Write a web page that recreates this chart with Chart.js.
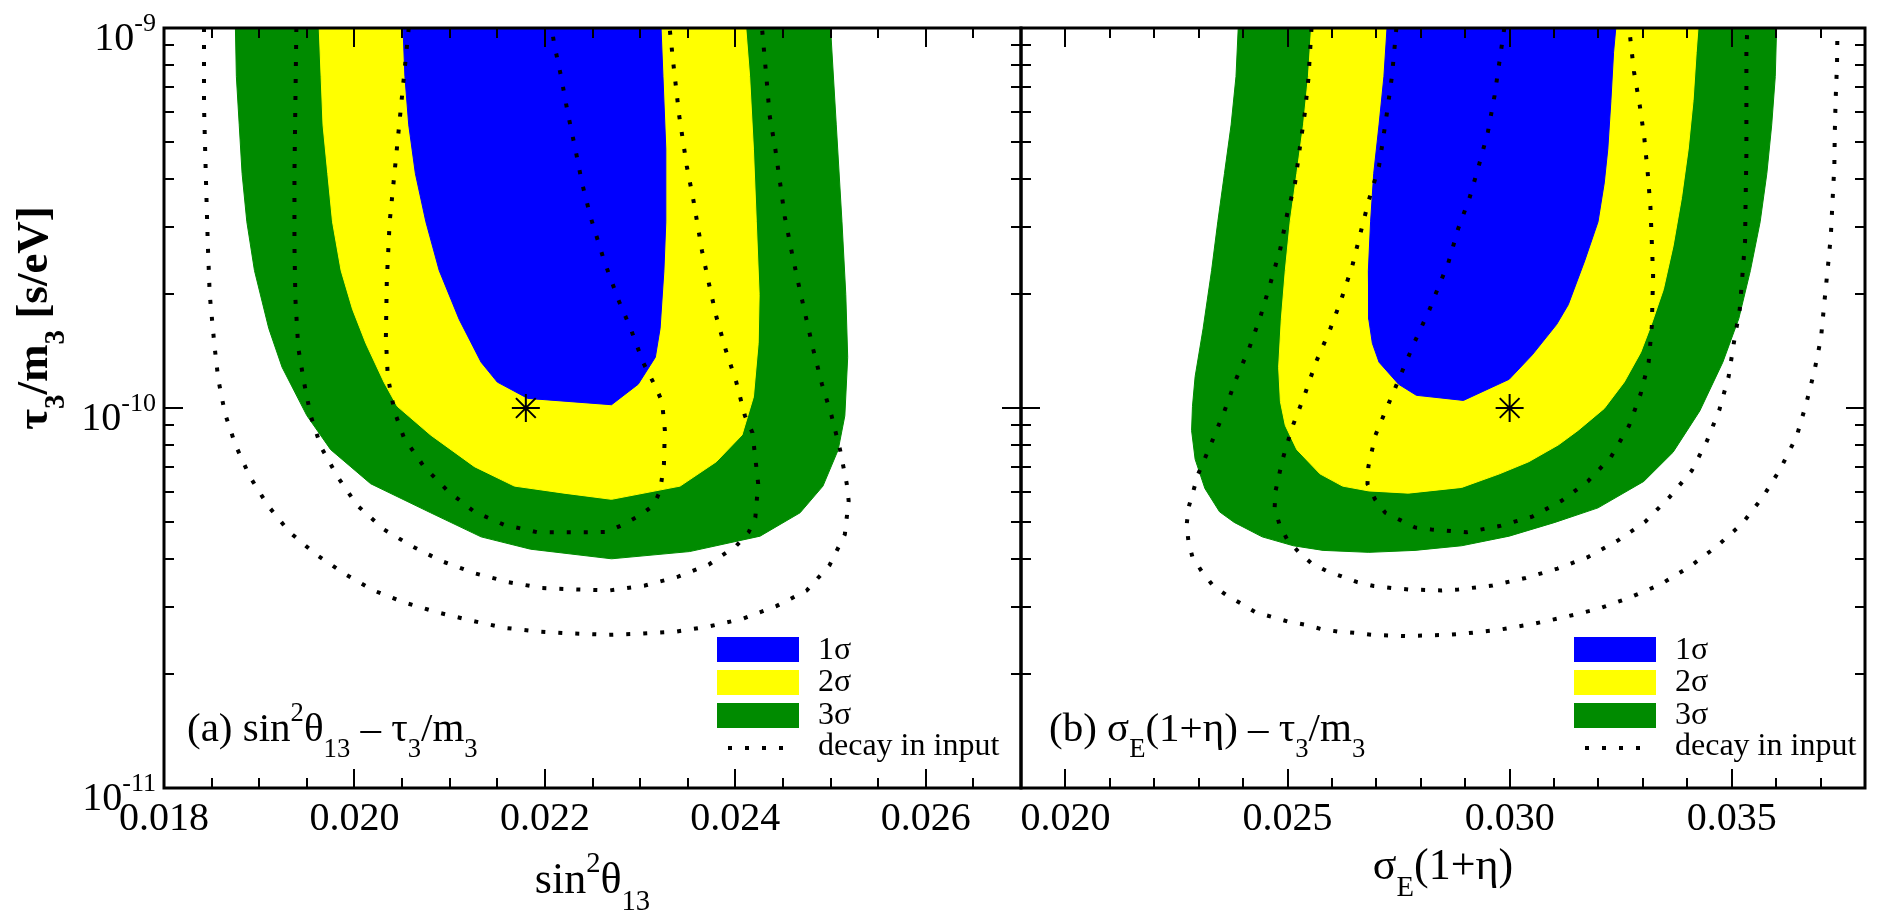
<!DOCTYPE html>
<html>
<head>
<meta charset="utf-8">
<title>tau3/m3 allowed regions</title>
<script src="https://cdn.jsdelivr.net/npm/chart.js@4.4.1/dist/chart.umd.min.js"></script>
<style>
  body { margin: 0; background: #fff; }
  #wrap { position: relative; width: 1881px; height: 917px; }
  canvas { position: absolute; top: 0; }
  #chartA { left: 0; }
  #chartB { left: 1002px; }
</style>
</head>
<body>
<div id="wrap">
  <canvas id="chartA" width="1040" height="917"></canvas>
  <canvas id="chartB" width="879" height="917"></canvas>
</div>
<script>
// contours, points are [x, tau3/m3 (s/eV)]
// panel (a): sin^2 theta13
const sinBlue = [[0.02051,1e-9],[0.02053,7.45e-10],[0.02057,5.56e-10],[0.02064,4.14e-10],[0.02075,3.09e-10],[0.02089,2.30e-10],[0.0211,1.71e-10],[0.02133,1.32e-10],[0.0215,1.17e-10],[0.02182,1.06e-10],[0.0227,1.02e-10],[0.02298,1.155e-10],[0.02316,1.36e-10],[0.02321,1.62e-10],[0.02325,2.30e-10],[0.02327,3.09e-10],[0.02327,4.80e-10],[0.02324,7.45e-10],[0.02322,1e-9]];
const sinYellow = [[0.01963,1e-9],[0.01965,7.45e-10],[0.01967,5.56e-10],[0.01972,4.14e-10],[0.01977,3.09e-10],[0.01986,2.30e-10],[0.01998,1.82e-10],[0.02012,1.48e-10],[0.02031,1.17e-10],[0.02045,1.01e-10],[0.0208,8.49e-11],[0.02126,7.01e-11],[0.02168,6.23e-11],[0.0222,5.97e-11],[0.0227,5.75e-11],[0.02342,6.23e-11],[0.0238,7.22e-11],[0.02407,8.49e-11],[0.02419,1.07e-10],[0.02424,1.48e-10],[0.02425,1.99e-10],[0.02422,3.09e-10],[0.02419,4.80e-10],[0.02415,7.45e-10],[0.02411,1e-9]];
const sinGreen = [[0.01875,1e-9],[0.01876,7.45e-10],[0.01879,5.56e-10],[0.01882,4.14e-10],[0.01887,3.09e-10],[0.01895,2.30e-10],[0.0191,1.62e-10],[0.01924,1.28e-10],[0.0195,9.55e-11],[0.01975,7.77e-11],[0.02017,6.32e-11],[0.0208,5.30e-11],[0.02133,4.58e-11],[0.02185,4.25e-11],[0.0227,4.01e-11],[0.02352,4.19e-11],[0.02426,4.60e-11],[0.02468,5.30e-11],[0.02492,6.23e-11],[0.02508,7.76e-11],[0.02515,9.54e-11],[0.02518,1.36e-10],[0.02516,1.99e-10],[0.02512,3.09e-10],[0.02506,5.56e-10],[0.025,1e-9]];
const sinDecay1 = [[0.02057,1e-9],[0.02052,7.45e-10],[0.02047,5.56e-10],[0.02042,4.14e-10],[0.02037,3.09e-10],[0.02034,2.17e-10],[0.02033,1.53e-10],[0.02035,1.21e-10],[0.02042,9.8e-11],[0.02052,8.35e-11],[0.02073,7.01e-11],[0.02098,6.05e-11],[0.02126,5.33e-11],[0.02157,4.93e-11],[0.02192,4.71e-11],[0.02248,4.71e-11],[0.02265,4.72e-11],[0.02282,4.93e-11],[0.023,5.22e-11],[0.02314,5.54e-11],[0.02321,6.05e-11],[0.02325,7.11e-11],[0.02326,8.73e-11],[0.02323,1.04e-10],[0.02316,1.14e-10],[0.02303,1.32e-10],[0.0229,1.62e-10],[0.02277,1.93e-10],[0.02262,2.45e-10],[0.02248,3.18e-10],[0.02239,3.91e-10],[0.02232,4.80e-10],[0.02224,5.98e-10],[0.02217,7.45e-10],[0.0221,9.02e-10],[0.02207,1e-9]];
const sinDecay2 = [[0.01939,1e-9],[0.01938,6.44e-10],[0.01937,4.14e-10],[0.01937,2.67e-10],[0.01938,1.93e-10],[0.01941,1.44e-10],[0.01947,1.17e-10],[0.01954,9.55e-11],[0.01965,7.89e-11],[0.01982,6.61e-11],[0.02003,5.54e-11],[0.02031,4.79e-11],[0.02061,4.32e-11],[0.02092,3.95e-11],[0.02127,3.67e-11],[0.02162,3.48e-11],[0.02197,3.36e-11],[0.02234,3.33e-11],[0.02268,3.31e-11],[0.02305,3.41e-11],[0.0234,3.60e-11],[0.02372,3.87e-11],[0.02401,4.34e-11],[0.02414,4.71e-11],[0.02421,5.15e-11],[0.02424,6.32e-11],[0.02422,7.01e-11],[0.02418,8.61e-11],[0.0241,9.55e-11],[0.02401,1.17e-10],[0.0239,1.42e-10],[0.0238,1.74e-10],[0.02372,2.14e-10],[0.02365,2.59e-10],[0.02356,3.52e-10],[0.02349,4.33e-10],[0.02341,5.89e-10],[0.02335,8.02e-10],[0.02331,1e-9]];
const sinDecay3 = [[0.01842,1e-9],[0.01842,6.25e-10],[0.01844,4.03e-10],[0.01846,2.70e-10],[0.01848,1.99e-10],[0.01853,1.46e-10],[0.01857,1.19e-10],[0.01864,9.68e-11],[0.01875,8.0e-11],[0.0189,6.61e-11],[0.01909,5.54e-11],[0.01932,4.71e-11],[0.01959,4.13e-11],[0.01989,3.67e-11],[0.0202,3.31e-11],[0.02052,3.08e-11],[0.02087,2.90e-11],[0.02122,2.76e-11],[0.02157,2.64e-11],[0.02194,2.58e-11],[0.0223,2.55e-11],[0.02267,2.53e-11],[0.02303,2.55e-11],[0.02338,2.58e-11],[0.02372,2.66e-11],[0.02408,2.79e-11],[0.02443,3.01e-11],[0.02475,3.31e-11],[0.02499,3.86e-11],[0.02515,4.65e-11],[0.02519,5.70e-11],[0.02517,6.32e-11],[0.0251,7.76e-11],[0.02501,9.55e-11],[0.02491,1.155e-10],[0.02482,1.42e-10],[0.02474,1.74e-10],[0.02466,2.14e-10],[0.02459,2.59e-10],[0.02452,3.18e-10],[0.02447,3.91e-10],[0.02442,4.80e-10],[0.02436,5.89e-10],[0.02433,7.24e-10],[0.02428,1e-9]];
const sinBest = [[0.0218, 1e-10]];

// panel (b): sigma_E(1+eta)
const sigBlue = [[0.02724,1e-9],[0.02717,7.45e-10],[0.02706,5.56e-10],[0.02694,4.14e-10],[0.02687,3.09e-10],[0.02682,2.30e-10],[0.02683,1.71e-10],[0.02691,1.48e-10],[0.02706,1.32e-10],[0.0275,1.155e-10],[0.0279,1.08e-10],[0.02896,1.047e-10],[0.02999,1.19e-10],[0.03051,1.38e-10],[0.03106,1.66e-10],[0.03132,1.87e-10],[0.03169,2.44e-10],[0.03199,3.09e-10],[0.03213,3.91e-10],[0.03221,4.80e-10],[0.03228,6.44e-10],[0.03234,8.63e-10],[0.03239,1e-9]];
const sigYellow = [[0.02554,1e-9],[0.02547,7.45e-10],[0.02536,5.56e-10],[0.02521,4.14e-10],[0.02506,3.09e-10],[0.02495,2.30e-10],[0.02486,1.71e-10],[0.0248,1.28e-10],[0.02484,1.04e-10],[0.02495,9.0e-11],[0.02521,7.77e-11],[0.02573,6.71e-11],[0.02624,6.23e-11],[0.02683,6.05e-11],[0.02772,5.97e-11],[0.02892,6.18e-11],[0.02977,6.71e-11],[0.03043,7.22e-11],[0.0311,8.0e-11],[0.03154,8.73e-11],[0.03213,9.97e-11],[0.03258,1.17e-10],[0.03295,1.40e-10],[0.0332,1.67e-10],[0.03346,2.05e-10],[0.03368,2.67e-10],[0.03387,3.58e-10],[0.03402,4.80e-10],[0.03413,6.44e-10],[0.0342,8.63e-10],[0.03424,1e-9]];
const sigGreen = [[0.02389,1e-9],[0.02384,7.45e-10],[0.02373,5.56e-10],[0.02358,4.14e-10],[0.02343,3.09e-10],[0.02329,2.30e-10],[0.0231,1.62e-10],[0.02292,1.21e-10],[0.02286,1.01e-10],[0.02284,8.73e-11],[0.02292,7.33e-11],[0.02314,6.14e-11],[0.02347,5.33e-11],[0.0238,5.0e-11],[0.02443,4.58e-11],[0.02513,4.34e-11],[0.0258,4.22e-11],[0.02683,4.17e-11],[0.02787,4.22e-11],[0.02892,4.34e-11],[0.02999,4.60e-11],[0.03102,5.0e-11],[0.03199,5.46e-11],[0.03302,6.41e-11],[0.03368,7.65e-11],[0.03428,9.82e-11],[0.0348,1.32e-10],[0.03516,1.72e-10],[0.03542,2.30e-10],[0.03564,3.09e-10],[0.03579,4.14e-10],[0.0359,5.56e-10],[0.03598,7.45e-10],[0.03601,1e-9]];
const sigDecay1 = [[0.02988,1e-9],[0.02977,8.14e-10],[0.02966,6.63e-10],[0.02951,5.32e-10],[0.02932,4.40e-10],[0.0291,3.58e-10],[0.02884,2.96e-10],[0.02862,2.41e-10],[0.02833,1.99e-10],[0.0282,1.82e-10],[0.02787,1.50e-10],[0.02757,1.24e-10],[0.02728,1.03e-10],[0.02698,8.49e-11],[0.02682,7.01e-11],[0.0268,6.32e-11],[0.02697,5.75e-11],[0.0272,5.30e-11],[0.02754,5.07e-11],[0.02787,4.85e-11],[0.02824,4.79e-11],[0.02903,4.71e-11],[0.02977,4.89e-11],[0.03051,5.18e-11],[0.03117,5.70e-11],[0.03176,6.41e-11],[0.03228,7.43e-11],[0.03269,8.99e-11],[0.03295,1.09e-10],[0.03313,1.32e-10],[0.0332,1.64e-10],[0.03323,2.23e-10],[0.0332,2.75e-10],[0.03317,3.37e-10],[0.03311,4.14e-10],[0.03303,5.16e-10],[0.03293,6.25e-10],[0.0328,7.67e-10],[0.03269,1e-9]];
const sigDecay2 = [[0.02745,1e-9],[0.02735,7.45e-10],[0.02723,5.89e-10],[0.02706,4.33e-10],[0.02683,3.52e-10],[0.02665,2.91e-10],[0.02646,2.37e-10],[0.02621,1.93e-10],[0.02595,1.60e-10],[0.02564,1.32e-10],[0.02537,1.07e-10],[0.0251,8.87e-11],[0.02489,7.33e-11],[0.02473,6.05e-11],[0.02471,5.46e-11],[0.02482,4.93e-11],[0.02499,4.51e-11],[0.02524,4.19e-11],[0.02554,3.90e-11],[0.02587,3.73e-11],[0.02623,3.60e-11],[0.02657,3.48e-11],[0.02694,3.40e-11],[0.02734,3.36e-11],[0.02772,3.33e-11],[0.02846,3.31e-11],[0.02884,3.33e-11],[0.02961,3.41e-11],[0.03036,3.57e-11],[0.03108,3.78e-11],[0.03176,4.05e-11],[0.03245,4.49e-11],[0.03306,5.03e-11],[0.0336,5.83e-11],[0.0341,6.84e-11],[0.03444,8.18e-11],[0.03472,9.88e-11],[0.03493,1.21e-10],[0.03505,1.49e-10],[0.03518,1.82e-10],[0.03524,2.23e-10],[0.0353,2.75e-10],[0.03531,3.37e-10],[0.03533,4.66e-10],[0.03533,6.34e-10],[0.03533,8.63e-10],[0.03535,1e-9]];
const sigDecay3 = [[0.02554,1e-9],[0.02547,7.35e-10],[0.02539,5.98e-10],[0.02528,4.87e-10],[0.02517,3.91e-10],[0.02499,3.23e-10],[0.02484,2.63e-10],[0.02462,2.14e-10],[0.02439,1.74e-10],[0.02414,1.44e-10],[0.02384,1.19e-10],[0.02358,9.82e-11],[0.02327,8.0e-11],[0.02299,6.71e-11],[0.02277,5.46e-11],[0.02273,4.93e-11],[0.02277,4.45e-11],[0.02286,4.05e-11],[0.02306,3.73e-11],[0.02332,3.41e-11],[0.02362,3.22e-11],[0.02395,3.06e-11],[0.02428,2.90e-11],[0.02465,2.82e-11],[0.02502,2.74e-11],[0.02539,2.69e-11],[0.02576,2.62e-11],[0.02613,2.58e-11],[0.0265,2.56e-11],[0.02691,2.53e-11],[0.02765,2.51e-11],[0.02861,2.53e-11],[0.029,2.55e-11],[0.02977,2.61e-11],[0.03051,2.70e-11],[0.03125,2.82e-11],[0.03199,2.96e-11],[0.0327,3.17e-11],[0.03339,3.43e-11],[0.03405,3.82e-11],[0.03466,4.32e-11],[0.03524,4.97e-11],[0.0357,5.83e-11],[0.03609,6.90e-11],[0.03646,8.41e-11],[0.03668,1.03e-10],[0.03686,1.25e-10],[0.03701,1.53e-10],[0.03708,1.87e-10],[0.03716,2.32e-10],[0.03723,2.83e-10],[0.03727,3.52e-10],[0.03731,4.33e-10],[0.03732,5.32e-10],[0.03734,6.53e-10],[0.03737,8.02e-10],[0.03738,1e-9]];
const sigBest = [[0.030, 1e-10]];

// axes
const sinTicks = [0.018, 0.020, 0.022, 0.024, 0.026];
const sinTickLabels = ['0.018', '0.020', '0.022', '0.024', '0.026'];
const sigTicks = [0.020, 0.025, 0.030, 0.035];
const sigTickLabels = ['0.020', '0.025', '0.030', '0.035'];
const tauTicks = [1e-11, 1e-10, 1e-9];
const tauTickExp = ['-11', '-10', '-9'];
const legendLabels = ['1σ', '2σ', '3σ', 'decay in input'];

const BLUE = '#0000ff', YELLOW = '#ffff00', GREEN = '#008b00';
const FONT = '"Liberation Serif", "Times New Roman", serif';
const DOTS = [4, 13];

function xy(pts) {
    return pts.map(p => ({x: p[0], y: p[1]}));
}

function region(pts, color, order) {
    return {data: xy(pts), showLine: true, fill: 'shape', backgroundColor: color,
            borderColor: color, borderWidth: 1, pointRadius: 0, tension: 0, order: order};
}

function dotted(pts) {
    return {data: xy(pts), showLine: true, fill: false, borderColor: '#000',
            borderWidth: 4, borderDash: DOTS, borderCapStyle: 'butt', pointRadius: 0, order: 2};
}

function star(pts) {
    return {data: xy(pts), showLine: false, pointStyle: 'star', pointRadius: 14,
            borderColor: '#000', borderWidth: 2, backgroundColor: '#000', order: 1};
}

// text with sub/superscripts, parts = [[text, 'sup'|'sub'|undefined], ...]
function richText(ctx, parts, x, y, size, align, weight) {
    const w = weight || 'normal';
    let total = 0;
    const dims = parts.map(p => {
        const s = p[1] ? size * 0.65 : size;
        ctx.font = w + ' ' + s + 'px ' + FONT;
        const m = ctx.measureText(p[0]).width;
        total += m;
        return [s, m];
    });
    let cx = align === 'center' ? x - total / 2 : (align === 'right' ? x - total : x);
    ctx.textAlign = 'left';
    ctx.textBaseline = 'alphabetic';
    parts.forEach((p, i) => {
        ctx.font = w + ' ' + dims[i][0] + 'px ' + FONT;
        let dy = 0;
        if (p[1] === 'sup') dy = -size * 0.48;
        if (p[1] === 'sub') dy = size * 0.38;
        ctx.fillText(p[0], cx, y + dy);
        cx += dims[i][1];
    });
}

function framePlugin(id, cfg) {
    return {
        id: id,
        afterDraw(chart) {
            const {ctx, chartArea: a, scales: {x, y}} = chart;
            ctx.save();
            ctx.fillStyle = '#000';
            ctx.strokeStyle = '#000';

            // inward ticks on all four sides
            ctx.lineWidth = 2;
            ctx.beginPath();
            const n = Math.round((x.max - x.min) / cfg.minorStep);
            for (let i = 0; i <= n; i++) {
                const v = x.min + i * cfg.minorStep;
                const r = v / cfg.majorStep;
                const len = Math.abs(r - Math.round(r)) < 1e-6 ? 19 : 10;
                const px = Math.round(x.getPixelForValue(v));
                ctx.moveTo(px, a.bottom); ctx.lineTo(px, a.bottom - len);
                ctx.moveTo(px, a.top); ctx.lineTo(px, a.top + len);
            }
            for (let e = -11; e <= -9; e++) {
                for (let m = 1; m <= 9; m++) {
                    if (e === -9 && m > 1) break;
                    const py = Math.round(y.getPixelForValue(m * Math.pow(10, e)));
                    const len = m === 1 ? 19 : 10;
                    ctx.moveTo(a.left, py); ctx.lineTo(a.left + len, py);
                    ctx.moveTo(a.right, py); ctx.lineTo(a.right - len, py);
                }
            }
            ctx.stroke();

            ctx.lineWidth = 3;
            ctx.strokeRect(a.left, a.top, a.right - a.left, a.bottom - a.top);

            // x tick labels
            ctx.font = '40px ' + FONT;
            ctx.textAlign = 'center';
            ctx.textBaseline = 'alphabetic';
            cfg.ticks.forEach((v, i) => {
                ctx.fillText(cfg.tickLabels[i], x.getPixelForValue(v), a.bottom + 42);
            });

            // y tick labels and title (left panel only)
            if (cfg.yLabels) {
                tauTicks.forEach((v, i) => {
                    richText(ctx, [['10'], [tauTickExp[i], 'sup']], a.left - 8, y.getPixelForValue(v) + 22, 40, 'right');
                });
                ctx.save();
                ctx.translate(47, 318);
                ctx.rotate(-Math.PI / 2);
                richText(ctx, [['τ'], ['3', 'sub'], ['/m'], ['3', 'sub'], [' [s/eV]']], 0, 0, 45, 'center', 'bold');
                ctx.restore();
            }

            // axis title and panel label
            richText(ctx, cfg.title, (a.left + a.right) / 2, cfg.titleY, 44, 'center');
            richText(ctx, cfg.panel, a.left + cfg.panelX, 741, 41, 'left');

            // legend
            const lx = a.left + 553;
            ctx.fillStyle = BLUE; ctx.fillRect(lx, a.top + 609, 82, 25);
            ctx.fillStyle = YELLOW; ctx.fillRect(lx, a.top + 642, 82, 25);
            ctx.fillStyle = GREEN; ctx.fillRect(lx, a.top + 675, 82, 25);
            ctx.setLineDash(DOTS);
            ctx.lineWidth = 4;
            ctx.beginPath();
            ctx.moveTo(lx + 11, a.top + 720); ctx.lineTo(lx + 68, a.top + 720);
            ctx.stroke();
            ctx.setLineDash([]);
            ctx.fillStyle = '#000';
            ctx.font = '32px ' + FONT;
            ctx.textAlign = 'left';
            const base = [631, 663, 696, 727];
            legendLabels.forEach((t, i) => ctx.fillText(t, lx + 101, a.top + base[i]));
            ctx.restore();
        }
    };
}

function makeChart(el, sets, xmin, xmax, padding, plugin) {
    return new Chart(document.getElementById(el), {
        type: 'scatter',
        data: {datasets: sets},
        options: {
            responsive: false,
            animation: false,
            devicePixelRatio: 1,
            events: [],
            layout: {padding: padding},
            scales: {
                x: {type: 'linear', min: xmin, max: xmax, display: false},
                y: {type: 'logarithmic', min: 1e-11, max: 1e-9, display: false}
            },
            plugins: {legend: {display: false}, tooltip: {enabled: false}}
        },
        plugins: [plugin]
    });
}

makeChart('chartA', [
    region(sinGreen, GREEN, 6), region(sinYellow, YELLOW, 5), region(sinBlue, BLUE, 4),
    dotted(sinDecay1), dotted(sinDecay2), dotted(sinDecay3), star(sinBest)
], 0.018, 0.027, {left: 164, top: 28, right: 19, bottom: 129},
framePlugin('frameA', {
    minorStep: 0.0005, majorStep: 0.002, ticks: sinTicks, tickLabels: sinTickLabels, yLabels: true,
    title: [['sin'], ['2', 'sup'], ['θ'], ['13', 'sub']], titleY: 893,
    panel: [['(a) sin'], ['2', 'sup'], ['θ'], ['13', 'sub'], [' – τ'], ['3', 'sub'], ['/m'], ['3', 'sub']], panelX: 23
}));

makeChart('chartB', [
    region(sigGreen, GREEN, 6), region(sigYellow, YELLOW, 5), region(sigBlue, BLUE, 4),
    dotted(sigDecay1), dotted(sigDecay2), dotted(sigDecay3), star(sigBest)
], 0.019, 0.038, {left: 19, top: 28, right: 4, bottom: 129},
framePlugin('frameB', {
    minorStep: 0.001, majorStep: 0.005, ticks: sigTicks, tickLabels: sigTickLabels, yLabels: false,
    title: [['σ'], ['E', 'sub'], ['(1+η)']], titleY: 879,
    panel: [['(b) σ'], ['E', 'sub'], ['(1+η) – τ'], ['3', 'sub'], ['/m'], ['3', 'sub']], panelX: 28
}));
</script>
</body>
</html>
